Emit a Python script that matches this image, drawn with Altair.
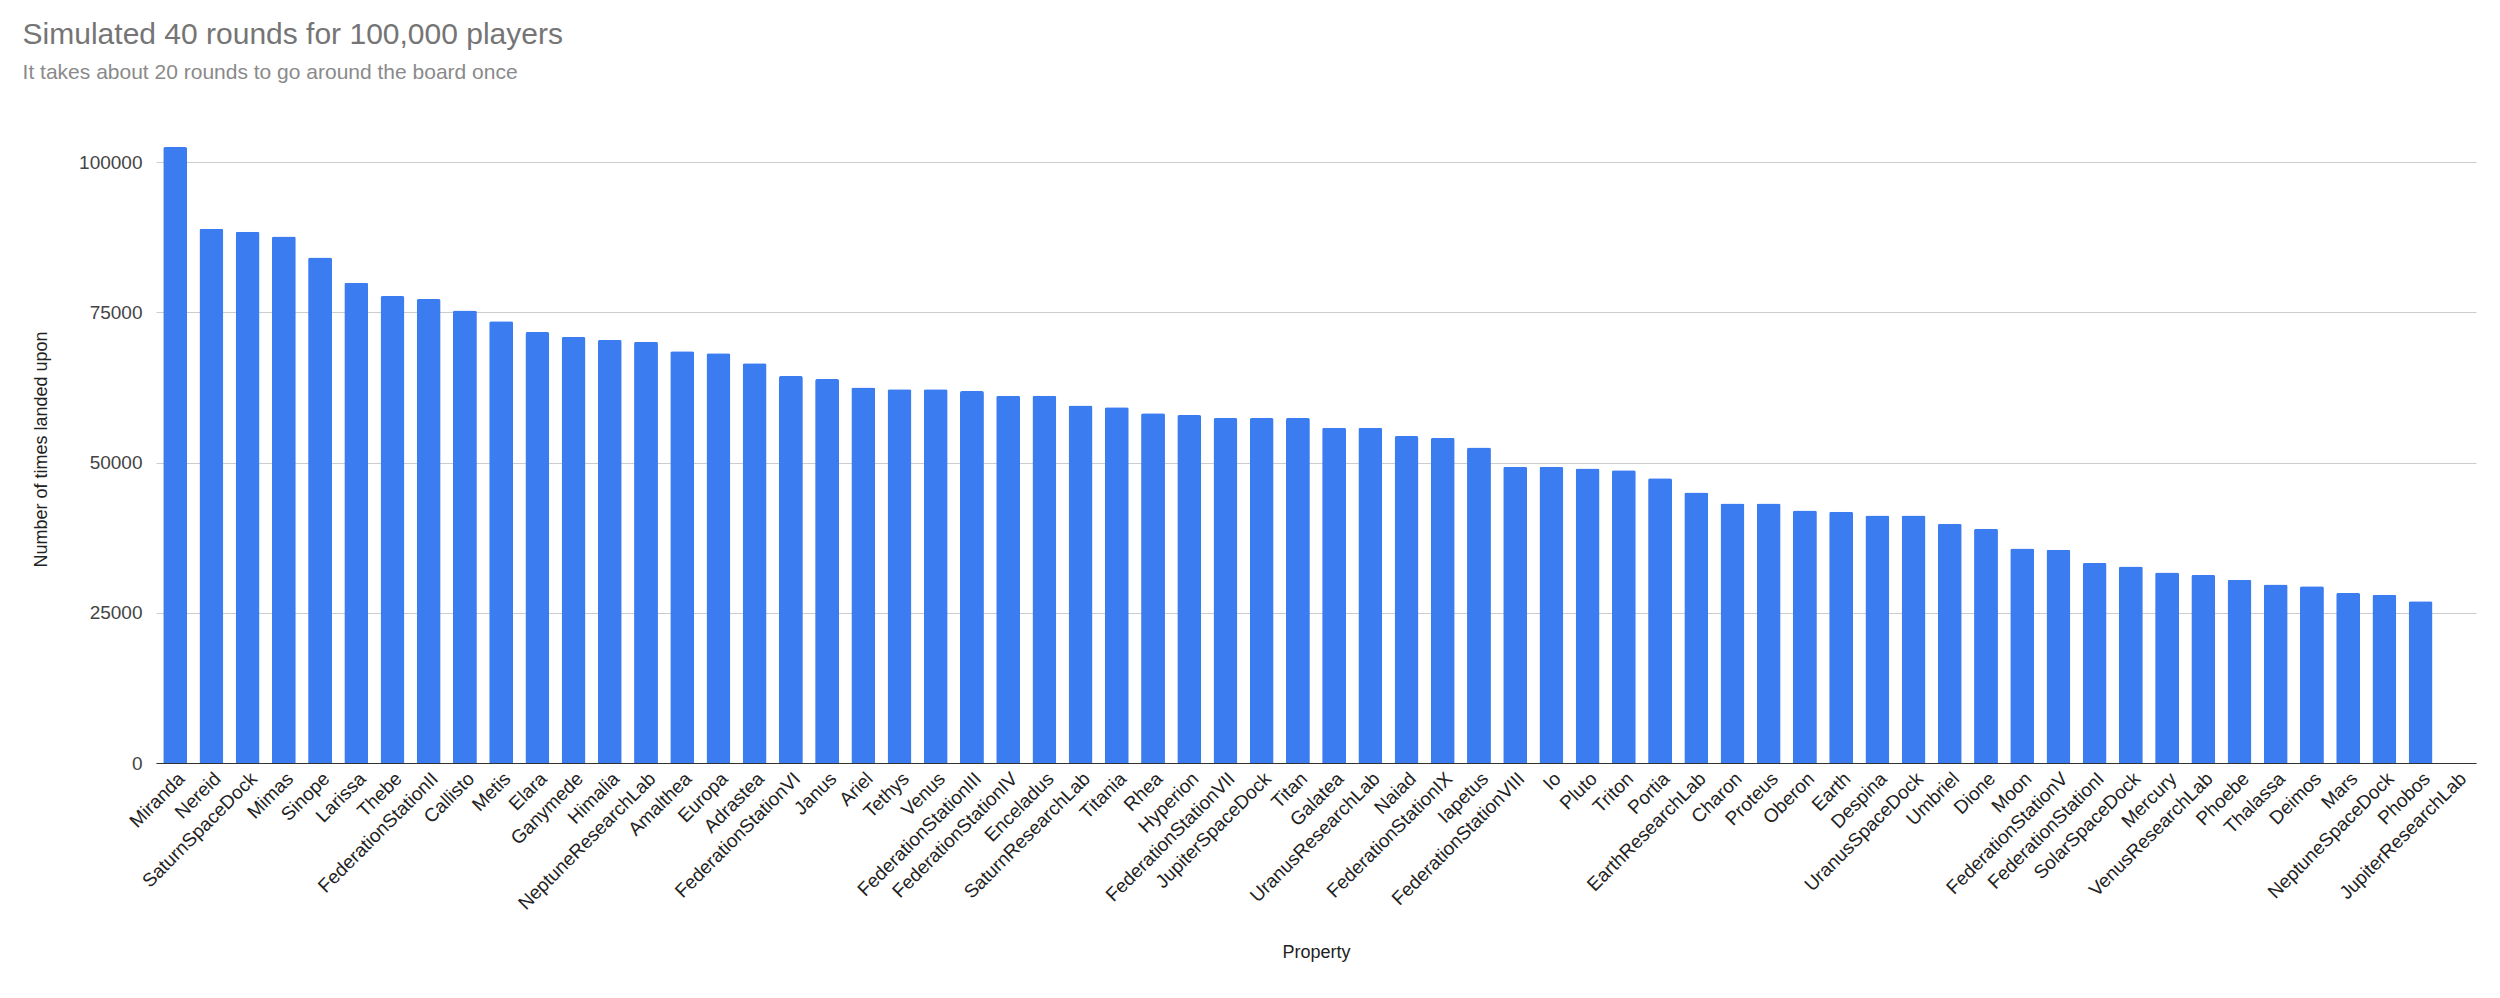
import pandas as pd
import altair as alt

properties = [
    "Miranda", "Nereid", "SaturnSpaceDock", "Mimas", "Sinope", "Larissa", "Thebe",
    "FederationStationII", "Callisto", "Metis", "Elara", "Ganymede", "Himalia",
    "NeptuneResearchLab", "Amalthea", "Europa", "Adrastea", "FederationStationVI",
    "Janus", "Ariel", "Tethys", "Venus", "FederationStationIII", "FederationStationIV",
    "Enceladus", "SaturnResearchLab", "Titania", "Rhea", "Hyperion",
    "FederationStationVII", "JupiterSpaceDock", "Titan", "Galatea", "UranusResearchLab",
    "Naiad", "FederationStationIX", "Iapetus", "FederationStationVIII", "Io", "Pluto",
    "Triton", "Portia", "EarthResearchLab", "Charon", "Proteus", "Oberon", "Earth",
    "Despina", "UranusSpaceDock", "Umbriel", "Dione", "Moon", "FederationStationV",
    "FederationStationI", "SolarSpaceDock", "Mercury", "VenusResearchLab", "Phoebe",
    "Thalassa", "Deimos", "Mars", "NeptuneSpaceDock", "Phobos", "JupiterResearchLab",
]
landed = [
    102500, 88900, 88400, 87600, 84100, 79900, 77700, 77200, 75300, 73500, 71700,
    70900, 70400, 70100, 68500, 68200, 66500, 64400, 63900, 62500, 62200, 62200,
    61900, 61100, 61100, 59500, 59200, 58200, 57900, 57400, 57400, 57400, 55800,
    55800, 54400, 54100, 52500, 49300, 49300, 49000, 48700, 47400, 45000, 43200,
    43200, 42000, 41800, 41200, 41200, 39800, 39000, 35700, 35500, 33300, 32700,
    31700, 31300, 30500, 29700, 29400, 28300, 28000, 26900, 0,
]

df = pd.DataFrame({"Property": properties, "Landed": landed})

font = "Liberation Sans"

chart = alt.Chart(df).mark_bar(color="#3b7cf0", cornerRadiusTopLeft=2, cornerRadiusTopRight=2).encode(
    alt.X("Property:N", sort=properties, title="Property",
          scale=alt.Scale(paddingInner=0.34, paddingOuter=0.2),
          axis=alt.Axis(labelAngle=-45, labelFontSize=19, titleFontSize=18,
                        titlePadding=30, ticks=False, domainColor="#333", labelLimit=400,
                        labelColor="#222", titleColor="#222", labelPadding=6)),
    alt.Y("Landed:Q", title="Number of times landed upon",
          scale=alt.Scale(domain=[0, 104500], nice=False),
          axis=alt.Axis(values=[0, 25000, 50000, 75000, 100000], format="d",
                        labelFontSize=19, titleFontSize=18, ticks=False,
                        domain=False, gridColor="#cccccc", labelPadding=14,
                        titlePadding=28, labelColor="#444", titleColor="#222")),
).properties(
    width=2320,
    height=628,
    padding={"left": 14, "top": 12, "right": 5, "bottom": 5},
    title=alt.TitleParams(
        "Simulated 40 rounds for 100,000 players",
        subtitle="It takes about 20 rounds to go around the board once",
        anchor="start", frame="bounds", fontSize=30, subtitleFontSize=21,
        font=font, subtitleFont=font,
        color="#757575", subtitleColor="#8a8a8a", fontWeight="normal",
        offset=52, subtitlePadding=12, dx=-10,
    ),
).configure_axis(
    labelFont=font, titleFont=font, titleFontWeight="normal",
).configure_view(strokeWidth=0)

chart.save("out.html", embed_options={"renderer": "svg", "actions": False})
